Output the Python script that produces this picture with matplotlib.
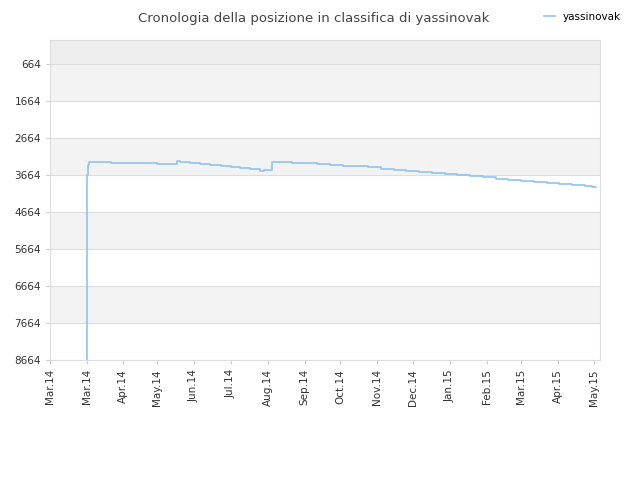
import matplotlib
matplotlib.use("Agg")
import matplotlib.pyplot as plt

days = [29, 29, 30, 31, 47, 48, 83, 84, 99, 100, 102, 110, 118, 126, 134, 142, 149, 157, 165, 167, 168, 173, 174, 181,
        190, 200, 210, 220, 230, 240, 250, 260, 270, 280, 290, 300, 310, 320, 330, 340, 350, 360, 370, 380, 390, 400, 410, 420, 426, 429]
ranks = [8664, 3664, 3400, 3313, 3313, 3340, 3340, 3367, 3367, 3286, 3313, 3340, 3367, 3394, 3421, 3448, 3475, 3502, 3556, 3556, 3529, 3529, 3313, 3313,
         3330, 3350, 3370, 3390, 3410, 3430, 3460, 3490, 3520, 3550, 3580, 3610, 3640, 3670, 3700, 3730, 3760, 3790, 3820, 3850, 3880, 3910, 3940, 3970, 3990, 4000]
tick_days = [0, 29, 57, 84, 113, 142, 171, 200, 228, 257, 285, 314, 343, 370, 399, 427]
tick_labels = ["Mar.14", "Mar.14", "Apr.14", "May.14", "Jun.14", "Jul.14", "Aug.14", "Sep.14",
               "Oct.14", "Nov.14", "Dec.14", "Jan.15", "Feb.15", "Mar.15", "Apr.15", "May.15"]
yticks = [664, 1664, 2664, 3664, 4664, 5664, 6664, 7664, 8664]

fig = plt.figure(figsize=(6.4, 4.8), dpi=100)
ax = fig.add_axes([50/640, 120/480, 550/640, 320/480])
ax.set_xlim(0, 432)
ax.set_ylim(8664, 14)
bands = [(14, 664, "#eeeeee")] + [(yticks[i], yticks[i+1], "#f3f3f3" if i % 2 == 0 else "white") for i in range(8)]
for lo, hi, c in bands:
    ax.axhspan(lo, hi, color=c, zorder=0, lw=0)
for y in yticks:
    ax.axhline(y, color="#dddddd", lw=0.8, zorder=1)
ax.plot(days, ranks, drawstyle="steps-post", color="#90c4f0", lw=1.2, zorder=2, label="yassinovak")
ax.set_yticks(yticks)
ax.set_yticklabels([str(v) for v in yticks], fontsize=7.5, color="#333333")
ax.set_xticks(tick_days)
ax.set_xticklabels(tick_labels, rotation=90, fontsize=7.5, color="#333333")
for s in ax.spines.values():
    s.set_color("#dddddd")
ax.tick_params(length=3, color="#cccccc")
fig.text(0.49, 0.975, "Cronologia della posizione in classifica di yassinovak", ha="center", va="top",
         fontsize=9.5, color="#444444")
fig.legend(loc="upper right", bbox_to_anchor=(0.985, 0.995), frameon=False, fontsize=7.5,
           handlelength=1.0)
fig.savefig("out.png", dpi=100)
